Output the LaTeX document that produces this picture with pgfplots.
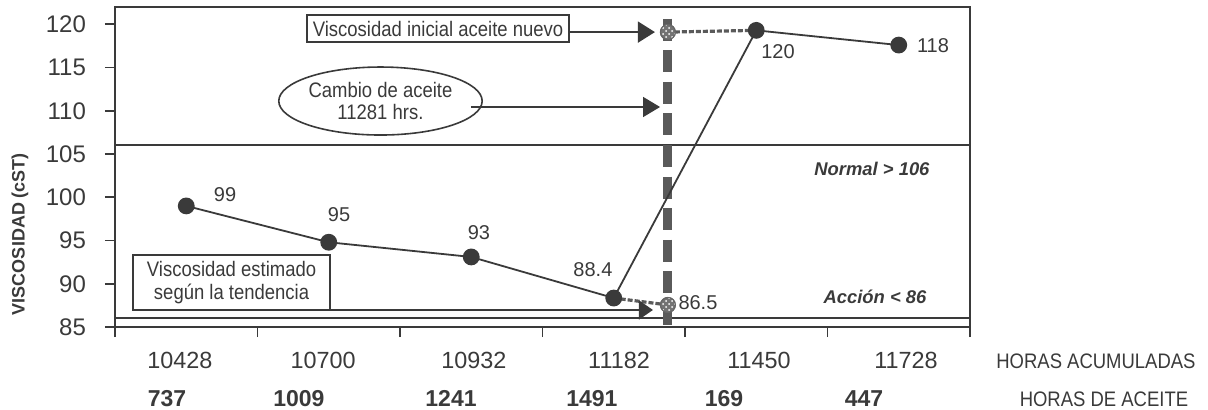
\documentclass[border=0pt]{standalone}
\usepackage{fontspec}
\setmainfont{Liberation Sans}
\usepackage{graphicx}
\usepackage{pgfplots}
\pgfplotsset{compat=1.18}
\usetikzlibrary{patterns,arrows.meta,shapes.geometric}

\definecolor{ink}{HTML}{3A3A3A}
\definecolor{dashgray}{HTML}{5A5A5A}
\newcommand{\nar}[1]{\scalebox{0.88}[1]{#1}}

\begin{document}
\begin{tikzpicture}[font=\fontsize{10.5}{11}\selectfont, text=ink]
\path[use as bounding box] (-57.5pt,-41pt) rectangle (546.5pt,163.5pt);
\begin{axis}[
  at={(0pt,0pt)}, anchor=south west,
  scale only axis, width=427.5pt, height=160pt,
  xmin=0, xmax=6, ymin=85, ymax=122,
  axis line style={ink, line width=0.9pt},
  xtick={0,...,6}, xticklabels={},
  ytick={85,90,...,120},
  tick pos=left, tick align=outside, major tick length=5pt,
  tick style={ink, line width=0.9pt},
  yticklabel style={font=\fontsize{12}{14}\selectfont, text=ink, xshift=-6pt},
  /pgf/number format/assume math mode=true,
  clip=false,
]
% reference bands
\addplot[ink, line width=0.9pt] coordinates {(0,106) (6,106)};
\addplot[ink, line width=0.9pt] coordinates {(0,86) (6,86)};

% oil change line
\addplot[dashgray, line width=4.5pt, dash pattern=on 11pt off 4.8pt] coordinates {(3.88,120.67) (3.88,84.65)};

% trend connectors
\addplot[dashgray, line width=1.6pt, dash pattern=on 2.5pt off 1pt] coordinates {(3.88,119.1) (4.5,119.3)};
\addplot[dashgray, line width=1.6pt, dash pattern=on 2.5pt off 1pt] coordinates {(3.5,88.35) (3.88,87.55)};

% measured viscosity
\addplot[ink, line width=0.9pt, mark=*, mark size=3.75pt, mark options={fill=ink}]
  coordinates {(0.5,99) (1.5,94.8) (2.5,93.1) (3.5,88.35) (4.5,119.3) (5.5,117.6)};

% estimated / new oil points
\addplot[only marks, mark=*, mark size=3.75pt, mark options={fill=black!55, draw=black!60, line width=0.5pt}]
  coordinates {(3.88,119.1) (3.88,87.55)};
\addplot[only marks, mark=*, mark size=3.75pt, mark options={pattern=crosshatch dots, pattern color=white, draw=black!60, line width=0.5pt}]
  coordinates {(3.88,119.1) (3.88,87.55)};

% value labels
\begin{scope}[font=\fontsize{10}{12}\selectfont]
\node at (axis cs:0.772,100.26) {99};
\node at (axis cs:1.572,97.95) {95};
\node at (axis cs:2.554,95.87) {93};
\node at (axis cs:3.354,91.59) {88.4};
\node at (axis cs:4.091,87.77) {86.5};
\node at (axis cs:4.653,116.8) {120};
\node at (axis cs:5.74,117.49) {118};
\end{scope}
\node[font=\bfseries\itshape\fontsize{9.2}{11}\selectfont] at (axis cs:5.312,103.27) {Normal > 106};
\node[font=\bfseries\itshape\fontsize{9.2}{11}\selectfont] at (axis cs:5.333,88.47) {Acción < 86};

% callouts
\node[draw=ink, line width=0.8pt, inner sep=0pt, minimum width=131pt, minimum height=13.5pt]
  at (axis cs:2.267,119.5) {\nar{Viscosidad inicial aceite nuevo}};
\draw[ink, line width=0.8pt, -{Triangle[length=8.5pt,width=10.5pt]}]
  (axis cs:3.186,119.1) -- (axis cs:3.789,119.1);

\node[ellipse, draw=ink, line width=0.8pt, inner sep=0pt, minimum width=90pt, minimum height=34pt, align=center]
  at (axis cs:1.863,111.13) {\nar{Cambio de aceite}\\\nar{11281 hrs.}};
\draw[ink, line width=0.8pt, -{Triangle[length=8.5pt,width=10pt]}]
  (axis cs:2.498,110.44) -- (axis cs:3.825,110.44);

\node[draw=ink, line width=0.8pt, inner sep=0pt, minimum width=98.5pt, minimum height=27.5pt, align=center, font=\fontsize{10.5}{11.5}\selectfont]
  at (axis cs:0.818,90.15) {\nar{Viscosidad estimado}\\\nar{según la tendencia}};
\draw[ink, line width=0.8pt, -{Triangle[length=7pt,width=9.5pt]}]
  (axis cs:1.509,86.97) -- (axis cs:3.775,86.97);

% category rows
\begin{scope}[font=\fontsize{11.7}{14}\selectfont, anchor=base]
\node at ([yshift=-20.5pt]axis cs:0.456,85) {10428};
\node at ([yshift=-20.5pt]axis cs:1.46,85) {10700};
\node at ([yshift=-20.5pt]axis cs:2.519,85) {10932};
\node at ([yshift=-20.5pt]axis cs:3.537,85) {11182};
\node at ([yshift=-20.5pt]axis cs:4.519,85) {11450};
\node at ([yshift=-20.5pt]axis cs:5.551,85) {11728};
\end{scope}
\begin{scope}[font=\bfseries\fontsize{11.5}{14}\selectfont, anchor=base]
\node at ([yshift=-39.5pt]axis cs:0.365,85) {737};
\node at ([yshift=-39.5pt]axis cs:1.291,85) {1009};
\node at ([yshift=-39.5pt]axis cs:2.358,85) {1241};
\node at ([yshift=-39.5pt]axis cs:3.347,85) {1491};
\node at ([yshift=-39.5pt]axis cs:4.274,85) {169};
\node at ([yshift=-39.5pt]axis cs:5.256,85) {447};
\end{scope}
\node[anchor=base] at ([yshift=-20.5pt]axis cs:6.884,85) {\nar{HORAS ACUMULADAS}};
\node[anchor=base] at ([yshift=-39.5pt]axis cs:6.94,85) {\nar{HORAS DE ACEITE}};
\end{axis}
\node[rotate=90, font=\bfseries\fontsize{9}{11}\selectfont] at (-47.5pt,46.5pt) {VISCOSIDAD (cST)};
\end{tikzpicture}
\end{document}
